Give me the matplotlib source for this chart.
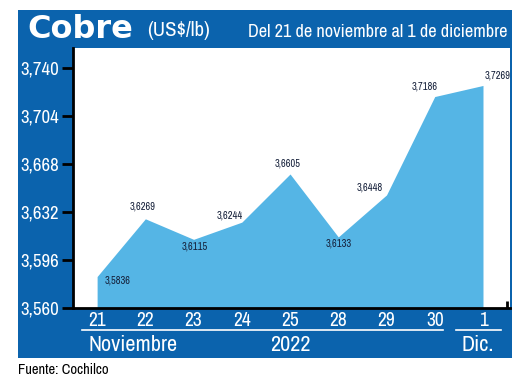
import matplotlib
matplotlib.use("Agg")
import matplotlib.pyplot as plt
from matplotlib import font_manager
from matplotlib.patches import Rectangle
from matplotlib.lines import Line2D

# data
dias = ["21", "22", "23", "24", "25", "28", "29", "30", "1"]
precios = [3.5836, 3.6269, 3.6115, 3.6244, 3.6605, 3.6133, 3.6448, 3.7186, 3.7269]
etiquetas = ["3,5836", "3,6269", "3,6115", "3,6244", "3,6605", "3,6133", "3,6448", "3,7186", "3,7269"]
yticks = [3.560, 3.596, 3.632, 3.668, 3.704, 3.740]
ytick_labels = ["3,560", "3,596", "3,632", "3,668", "3,704", "3,740"]

# label offsets in pixels (dx, dy)
offsets = [(21, -4), (-3, 12), (1, -7), (-12, 7), (-2, 10), (0, -7), (-17, 7), (-10, 10), (15, 10)]

W, H = 520, 380
azul = "#0b63ad"
celeste = "#55b5e5"

# look for a condensed face, otherwise Roboto
names = sorted({f.name for f in font_manager.fontManager.ttflist})
cond = [n for n in names if "Narrow" in n or "Condensed" in n]
narrow = [cond[0] if cond else "Roboto", "DejaVu Sans"]
k = 1.0 if cond else 0.88

def fx(px):
    return px / W

def fy(py):
    return 1 - py / H

fig = plt.figure(figsize=(5.2, 3.8), dpi=100)
fig.patch.set_facecolor("white")

# blue panel
fig.add_artist(Rectangle((fx(18), fy(358)), fx(512) - fx(18), fy(10) - fy(358),
                         transform=fig.transFigure, facecolor=azul, edgecolor="none", zorder=0))

ax = fig.add_axes([fx(73), fy(308), fx(510) - fx(73), fy(48) - fy(308)])
ax.set_facecolor("white")
x = list(range(len(dias)))
ax.fill_between(x, precios, 3.560, color=celeste, linewidth=0, zorder=2)
ax.set_xlim(-0.5, 8.56)
ax.set_ylim(3.560, 3.755)

for s in ["top", "right"]:
    ax.spines[s].set_visible(False)
ax.spines["left"].set_linewidth(2)
ax.spines["bottom"].set_linewidth(2)

ax.set_yticks(yticks)
ax.set_yticklabels(ytick_labels, color="white", fontsize=13.5 * k, family=narrow)
ax.tick_params(axis="y", direction="out", length=8, width=2, color="black", pad=2)
ax.set_xticks(x)
ax.set_xticklabels(dias, color="white", fontsize=14 * k, family=narrow)
ax.tick_params(axis="x", length=0, pad=2)
ax.set_xticks([5.5, 8.5], minor=True)
ax.tick_params(axis="x", which="minor", direction="in", length=5, width=2, color="black")

for xi, v, lab, (dx, dy) in zip(x, precios, etiquetas, offsets):
    ax.annotate(lab, (xi, v), xytext=(dx, dy), textcoords="offset pixels",
                ha="center", va="center", fontsize=7.5 * k, color="#15203a",
                family=narrow, zorder=3)

# title band
fig.text(fx(27), fy(30), "Cobre", color="white", fontsize=23, fontweight="bold",
         family=["DejaVu Sans"], va="center", ha="left")
fig.text(fx(147), fy(31), "(US$/lb)", color="white", fontsize=15 * k, family=narrow,
         va="center", ha="left")
fig.text(fx(507), fy(32), "Del 21 de noviembre al 1 de diciembre", color="white",
         fontsize=13.2 * k, family=narrow, va="center", ha="right")

# month separators
fig.add_artist(Line2D([fx(82), fx(443)], [fy(330), fy(330)], color="white", lw=1.2))
fig.add_artist(Line2D([fx(456), fx(501)], [fy(330), fy(330)], color="white", lw=1.2))
fs_mes = 16 * k
fig.text(fx(133), fy(345), "Noviembre", color="white", fontsize=fs_mes, family=narrow, ha="center", va="center")
fig.text(fx(290), fy(345), "2022", color="white", fontsize=fs_mes, family=narrow, ha="center", va="center")
fig.text(fx(478), fy(345), "Dic.", color="white", fontsize=fs_mes, family=narrow, ha="center", va="center")

fig.text(fx(18), fy(370), "Fuente: Cochilco", color="black", fontsize=10.5 * k, family=narrow,
         ha="left", va="center")

fig.savefig("out.png", dpi=100)
